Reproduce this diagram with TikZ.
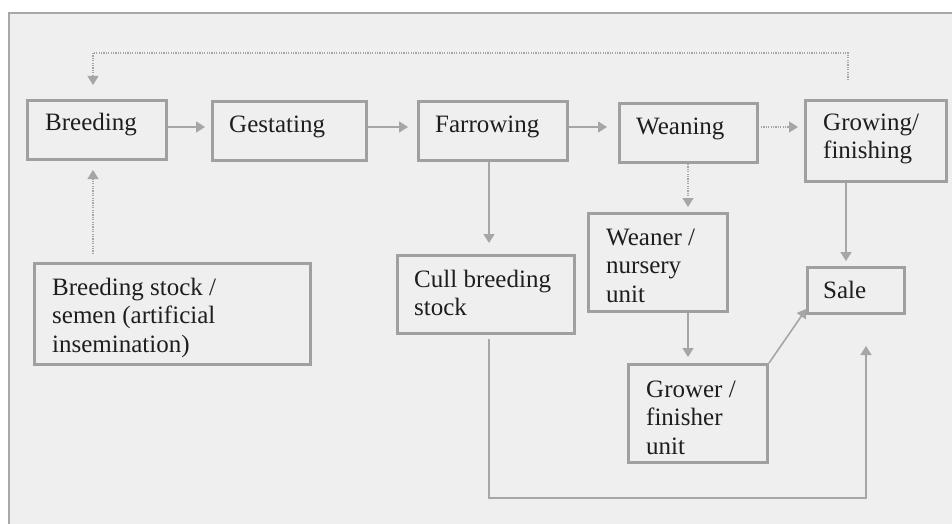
\documentclass[tikz,border=0pt]{standalone}
\usepackage{fontspec}
\setmainfont{Liberation Serif}
\usetikzlibrary{arrows.meta,calc}
\definecolor{bg}{HTML}{EFEFEF}
\definecolor{frm}{HTML}{A8A8A8}
\definecolor{bx}{HTML}{A0A0A0}
\definecolor{ln}{HTML}{A6A6A6}
\definecolor{tx}{HTML}{1E1E1E}
\begin{document}
\begin{tikzpicture}[x=1pt,y=-1pt,
  box/.style={draw=bx, line width=3pt, inner sep=0pt},
  lbl/.style={font=\fontsize{25}{28.7}\selectfont, text=tx, align=left, anchor=base west, inner sep=0pt},
  arr/.style={draw=ln, line width=1.6pt, -{Triangle[length=9pt,width=11pt]}},
  darr/.style={draw=ln, line width=1.2pt, dash pattern=on 1.2pt off 1.2pt, -{Triangle[length=9pt,width=11pt]}},
  dline/.style={draw=ln, line width=1.2pt, dash pattern=on 1.2pt off 1.2pt},
]
\useasboundingbox (0,0) rectangle (952,524);
\fill[white] (0,0) rectangle (952,524);
\clip (0,0) rectangle (952,524);
\draw[frm, line width=1.5pt, fill=bg] (9,13) rectangle (975,545);

% boxes
\node[box, minimum width=139pt, minimum height=59pt] (breed) at (97,130) {};
\node[box, minimum width=154pt, minimum height=59pt] (gest) at (289.5,131) {};
\node[box, minimum width=149pt, minimum height=59pt] (farrow) at (493,131) {};
\node[box, minimum width=138pt, minimum height=59pt] (wean) at (688.5,133) {};
\node[box, minimum width=141pt, minimum height=81pt] (grow) at (876,141) {};
\node[box, minimum width=276pt, minimum height=101pt] (stock) at (172.5,314) {};
\node[box, minimum width=177pt, minimum height=78pt] (cull) at (486,294.5) {};
\node[box, minimum width=139pt, minimum height=98pt] (weaner) at (658,262.5) {};
\node[box, minimum width=97pt, minimum height=46pt] (sale) at (856,290.5) {};
\node[box, minimum width=139pt, minimum height=98pt] (grower) at (698,413.5) {};

% labels (base anchor = last line baseline; line pitch 28.7)
\node[lbl] (breedT) at ($(breed.north west)+(19,32)$) {Breeding};
\node[lbl] (gestT) at ($(gest.north west)+(18,32)$) {Gestating};
\node[lbl] (farrowT) at ($(farrow.north west)+(18,32)$) {Farrowing};
\node[lbl] (weanT) at ($(wean.north west)+(18,32)$) {Weaning};
\node[lbl] (growT) at ($(grow.north west)+(19,59.7)$) {Growing/\\finishing};
\node[lbl] (stockT) at ($(stock.north west)+(19,90.4)$) {Breeding stock /\\semen (artificial\\insemination)};
\node[lbl] (cullT) at ($(cull.north west)+(18,61.7)$) {Cull breeding\\stock};
\node[lbl] (weanerT) at ($(weaner.north west)+(19,90.4)$) {Weaner /\\nursery\\unit};
\node[lbl] (saleT) at ($(sale.north west)+(17,32)$) {Sale};
\node[lbl] (growerT) at ($(grower.north west)+(19,91.4)$) {Grower /\\finisher\\unit};

% connectors
\draw[arr, shorten >=6pt] (breed.east |- 0,127) -- (gest.west |- 0,127);
\draw[arr, shorten >=9pt] (gest.east |- 0,127) -- (farrow.west |- 0,127);
\draw[arr, shorten >=11pt] (farrow.east |- 0,127) -- (wean.west |- 0,127);
\draw[darr, shorten <=2pt, shorten >=6pt] (wean.east |- 0,127) -- (grow.west |- 0,127);

\coordinate (gtop) at (848,80);
\coordinate (ttop) at (93,53);
\draw[dline] (gtop) -- (gtop |- ttop) -- (ttop);
\draw[darr, shorten >=14pt] (ttop) -- (breed.north -| ttop);

\draw[darr, shorten <=8pt, shorten >=9pt] (stock.north -| ttop) -- (breed.south -| ttop);
\draw[darr, shorten >=5pt] (wean.south -| 688,0) -- (weaner.north -| 688,0);
\draw[arr, shorten >=11pt] (farrow.south -| 489,0) -- (cull.north -| 489,0);
\draw[arr, shorten >=5pt] (grow.south -| 846,0) -- (sale.north -| 846,0);
\draw[arr, shorten >=6pt] (weaner.south -| 688,0) -- (grower.north -| 688,0);
\draw[arr, shorten >=1pt] (grower.north east) -- ($(sale.south west)+(1,-7)$);
\coordinate (cb) at (489,498);
\coordinate (sb) at (866,498);
\draw[arr, shorten <=4pt, shorten >=31pt] (cull.south -| cb) -- (cb) -- (sb) -- (sale.south -| sb);
\end{tikzpicture}
\end{document}
